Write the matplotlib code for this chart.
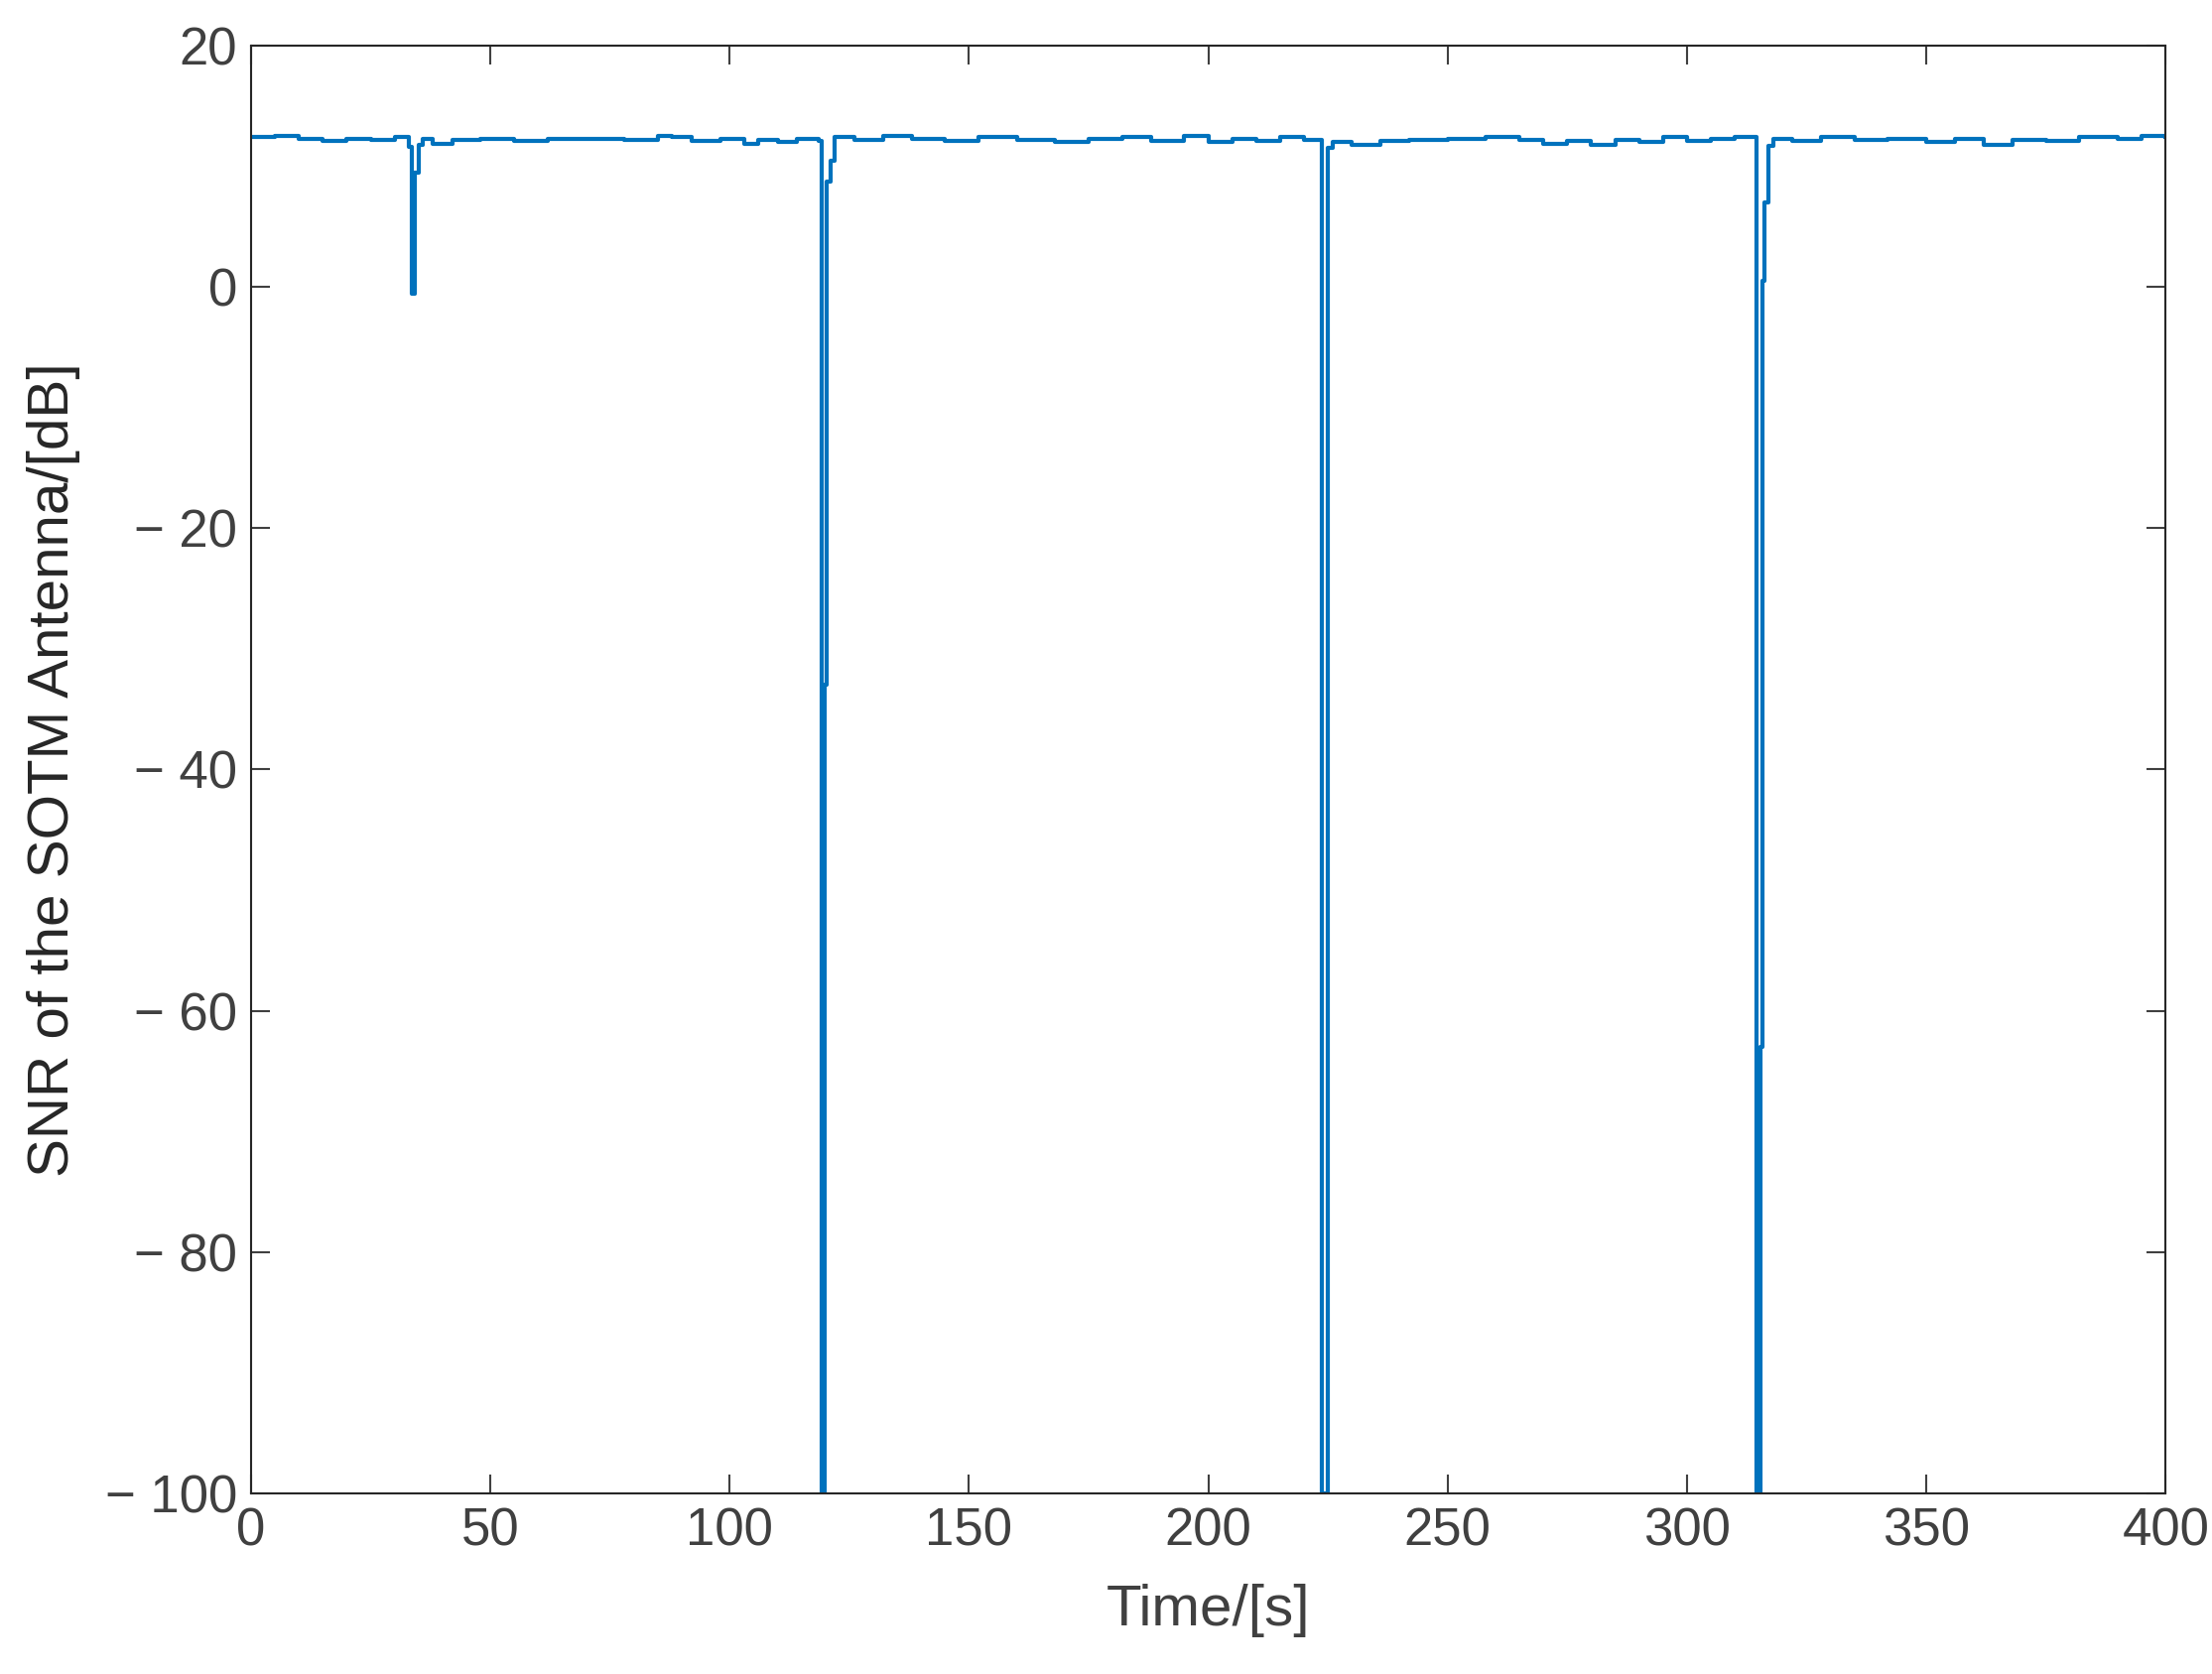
import matplotlib.pyplot as plt
import numpy as np

plt.rcParams['font.family'] = ['Liberation Sans', 'DejaVu Sans']

# step samples: time [s] and SNR [dB]
t = [0, 5, 10, 15, 20, 25, 30, 33, 33.6, 34.2, 35.0, 35.8, 38, 42, 48, 55, 62,
     70, 78, 85, 88, 92, 98, 103, 106, 110, 114, 118.6, 119.2, 119.9, 120.3,
     121.0, 122.0, 126, 132, 138, 145, 152, 160, 168, 175, 182, 188, 195, 200,
     205, 210, 215, 220, 223.8, 224.9, 226.0, 230, 236, 242, 250, 258, 265, 270,
     275, 280, 285, 290, 295, 300, 305, 310, 314.6, 315.3, 315.7, 316.2, 317.0,
     318.0, 322, 328, 335, 342, 350, 356, 362, 368, 375, 382, 390, 395, 400]
snr = [12.4, 12.5, 12.3, 12.1, 12.3, 12.2, 12.4, 11.6, -0.6, 9.5, 11.8, 12.3,
       11.9, 12.2, 12.3, 12.1, 12.3, 12.3, 12.2, 12.5, 12.4, 12.1, 12.3, 11.9,
       12.2, 12.0, 12.3, 12.1, -100, -33, 8.7, 10.5, 12.4, 12.2, 12.5, 12.3,
       12.1, 12.4, 12.2, 12.0, 12.3, 12.4, 12.1, 12.5, 12.0, 12.3, 12.1, 12.4,
       12.2, -100, 11.5, 12.0, 11.8, 12.1, 12.2, 12.3, 12.4, 12.2, 11.9, 12.1,
       11.8, 12.2, 12.0, 12.4, 12.1, 12.3, 12.4, -100, -63, 0.5, 7.0, 11.7,
       12.3, 12.1, 12.4, 12.2, 12.3, 12.0, 12.3, 11.8, 12.2, 12.1, 12.4, 12.3,
       12.5, 12.4]

xticks = [0, 50, 100, 150, 200, 250, 300, 350, 400]
yticks = [-100, -80, -60, -40, -20, 0, 20]

fig = plt.figure(figsize=(22.29, 16.87), dpi=100)
ax = fig.add_axes([0.1135, 0.108, 0.8655, 0.8647])
ax.plot(t, snr, drawstyle='steps-post', color='#0072BD', lw=3)

ax.set_xlim(0, 400)
ax.set_ylim(-100, 20)
ax.set_xticks(xticks)
ax.set_yticks(yticks)
ax.set_yticklabels([str(v) if v >= 0 else '\u2212 ' + str(-v) for v in yticks])
ax.tick_params(direction='in', length=14, width=1.5, top=True, right=True,
               labelsize=38, colors='#404040', pad=10)
for s in ax.spines.values():
    s.set_linewidth(1.5)
    s.set_color('#262626')
ax.set_xlabel('Time/[s]', fontsize=42, color='#404040', labelpad=20)
ax.set_ylabel('SNR of the SOTM Antenna/[dB]', fontsize=42, color='#262626', labelpad=18)

fig.savefig('out.png', dpi=100)
